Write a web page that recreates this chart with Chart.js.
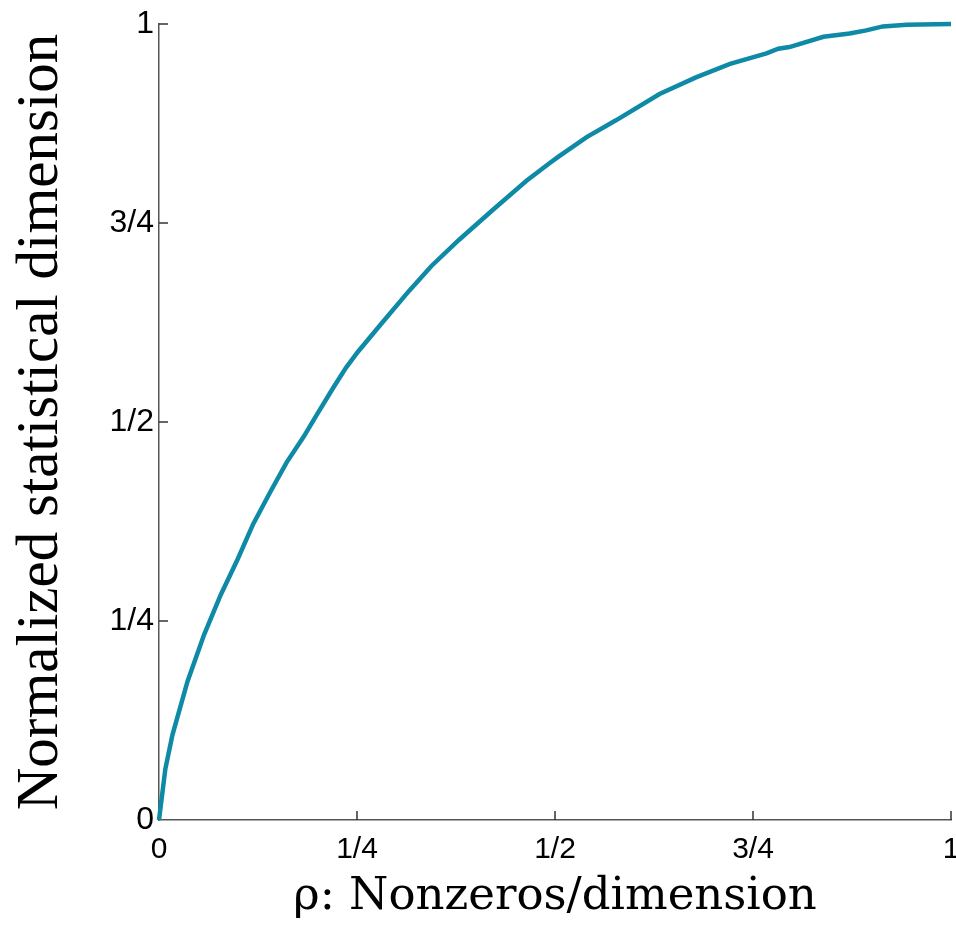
<!DOCTYPE html>
<html>
<head>
<meta charset="utf-8">
<script src="https://cdn.jsdelivr.net/npm/chart.js@4/dist/chart.umd.min.js"></script>
<style>
  body { margin: 0; background: #fff; }
  #wrap { width: 956px; height: 926px; }
</style>
</head>
<body>
<div id="wrap"><canvas id="chart"></canvas></div>
<script>
// sparsity rho = nonzeros / dimension
const rho = [0, 0.008, 0.017, 0.036, 0.057, 0.078, 0.099, 0.119, 0.141, 0.161,
  0.183, 0.198, 0.22, 0.236, 0.251, 0.282, 0.316, 0.344, 0.379, 0.421,
  0.464, 0.493, 0.504, 0.54, 0.577, 0.632, 0.678, 0.721, 0.767, 0.782,
  0.796, 0.839, 0.872, 0.893, 0.914, 0.944, 1];
// normalized statistical dimension
const statDim = [0, 0.064, 0.107, 0.174, 0.233, 0.283, 0.327, 0.372, 0.413, 0.449,
  0.482, 0.507, 0.543, 0.568, 0.588, 0.625, 0.665, 0.696, 0.729, 0.766,
  0.803, 0.825, 0.833, 0.858, 0.879, 0.912, 0.933, 0.95, 0.963, 0.969,
  0.971, 0.984, 0.988, 0.992, 0.997, 0.999, 1];
const tickLabels = ['0', '1/4', '1/2', '3/4', '1'];

const points = rho.map((r, i) => ({ x: r, y: statDim[i] }));

// ticks point into the plot, matlab style
const inwardTicks = {
  id: 'inwardTicks',
  afterDraw(chart) {
    const { ctx, chartArea, scales } = chart;
    ctx.save();
    ctx.strokeStyle = '#333';
    ctx.lineWidth = 1.5;
    scales.y.ticks.forEach(t => {
      if (t.value === 0) return;
      const py = scales.y.getPixelForValue(t.value);
      ctx.beginPath();
      ctx.moveTo(chartArea.left, py);
      ctx.lineTo(chartArea.left + 9, py);
      ctx.stroke();
    });
    scales.x.ticks.forEach(t => {
      if (t.value === 0) return;
      const px = scales.x.getPixelForValue(t.value);
      ctx.beginPath();
      ctx.moveTo(px, chartArea.bottom);
      ctx.lineTo(px, chartArea.bottom - 9);
      ctx.stroke();
    });
    ctx.restore();
  }
};

new Chart(document.getElementById('chart'), {
  type: 'line',
  data: {
    datasets: [{
      data: points,
      borderColor: '#0f8aa6',
      borderWidth: 4.5,
      pointRadius: 0,
      tension: 0,
      fill: false,
      clip: false
    }]
  },
  options: {
    responsive: true,
    maintainAspectRatio: false,
    animation: false,
    layout: { padding: { top: 24, right: 5, left: 0, bottom: 0 } },
    plugins: { legend: { display: false }, tooltip: { enabled: false } },
    scales: {
      x: {
        type: 'linear',
        min: 0,
        max: 1,
        grid: { display: false, drawTicks: false },
        border: { display: true, color: '#555', width: 1.5 },
        ticks: {
          stepSize: 0.25,
          padding: 12,
          color: '#000',
          font: { family: '"Liberation Sans", Arial, sans-serif', size: 30 },
          callback: v => tickLabels[Math.round(v * 4)]
        },
        title: {
          display: true,
          text: 'ρ: Nonzeros/dimension',
          color: '#000',
          padding: 0,
          font: { family: '"DejaVu Serif", serif', size: 45, lineHeight: 1.29 }
        },
        afterFit: s => { s.height = 106; s.paddingLeft = 0; s.paddingRight = 0; }
      },
      y: {
        type: 'linear',
        min: 0,
        max: 1,
        grid: { display: false, drawTicks: false },
        border: { display: true, color: '#555', width: 1.5 },
        ticks: {
          stepSize: 0.25,
          padding: 5,
          color: '#000',
          font: { family: '"Liberation Sans", Arial, sans-serif', size: 32 },
          callback: v => tickLabels[Math.round(v * 4)]
        },
        title: {
          display: true,
          text: 'Normalized statistical dimension',
          color: '#000',
          padding: 0,
          font: { family: '"Liberation Serif", serif', size: 59, lineHeight: 1.39 }
        },
        afterFit: s => { s.width = 159; s.paddingTop = 0; s.paddingBottom = 0; }
      }
    }
  },
  plugins: [inwardTicks]
});
</script>
</body>
</html>
